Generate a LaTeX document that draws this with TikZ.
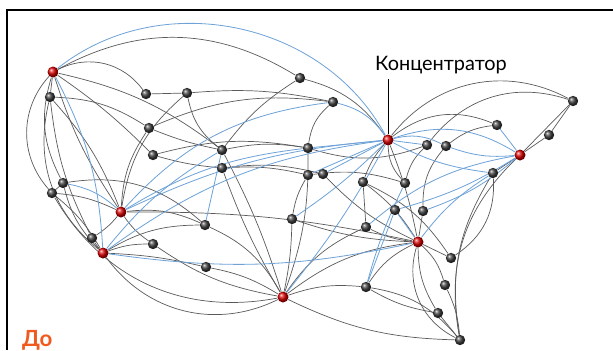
\documentclass[tikz,border=0pt]{standalone}
\usepackage{fontspec}
\setmainfont{Lato}
\usepackage{tikz}
\usetikzlibrary{backgrounds}

\definecolor{linkgray}{HTML}{5A5A5A}
\definecolor{linkblue}{HTML}{6FA3D8}
\definecolor{labelorange}{HTML}{F05A1E}

\begin{document}
\begin{tikzpicture}[
  x=0.03cm, y=-0.03cm,
  dot/.style={circle, inner sep=0pt, minimum size=0.31cm, shading=ball, ball color=black!75},
  hub/.style={circle, inner sep=0pt, minimum size=0.33cm, shading=ball, ball color=red!85!black},
  link/.style={draw=linkgray, line width=0.6pt},
  blink/.style={draw=linkblue, line width=0.7pt}
]
  \useasboundingbox (0,0) rectangle (613,350);
  % frame
  \coordinate (fbl) at (7,350);
  \coordinate (ftl) at (7,10);
  \coordinate (ftr) at (613,10);
  \draw[line width=1.8pt] (fbl) -- (ftl) -- (ftr);

  % hubs
  \foreach \n/\x/\y in {hA/53/72, hB/121/212, hC/103/253, hD/283/297,
                        hE/388/140, hF/520/155, hG/418/242} {
    \node[hub] (\n) at (\x,\y) {};
  }
  % ordinary stations
  \foreach \n/\x/\y in {n1/50/97, n2/146/94, n3/187/93, n4/300/78, n5/333/102,
                        n6/149/128, n7/153/155, n8/222/150, n9/222/168, n10/308/148,
                        n11/308/175, n12/323/174, n13/52/193, n14/63/183, n15/92/238,
                        n16/153/244, n17/205/225, n18/206/267, n19/292/219, n20/363/182,
                        n21/405/183, n22/427/145, n23/446/146, n24/497/125, n25/549/135,
                        n26/573/101, n27/493/173, n28/395/210, n29/423/211, n30/366/227,
                        n31/451/258, n32/366/287, n33/445/285, n34/438/313, n35/460/340} {
    \node[dot] (\n) at (\x,\y) {};
  }

  \node[font=\fontsize{17}{20}\selectfont] (hublabel) at (441,65) {Концентратор};
  \coordinate (hubtick) at (388,79);
  \draw[line width=0.6pt] (hubtick) -- (hE);

  \node[font=\fontsize{19}{22}\selectfont\bfseries, text=labelorange, anchor=base west] (before) at (18,346) {До};

  \begin{pgfonlayer}{background}
    % grey links
    \foreach \a/\b/\c in {hA/n4/30, hA/n2/40, hA/n1/0, hA/n7/5, hA/hB/-8, hA/n13/-42,
                          hA/n14/-22, hA/n8/12, n1/hB/10, n1/hC/-32, n1/n15/-10,
                          n2/n3/0, n3/n5/8, n4/n8/-10, n3/n8/-20, n6/n5/15, n6/n8/-5,
                          n6/hB/-15, n7/n10/12, n7/n9/-5, n8/n10/10, n9/n11/8, n9/n12/10,
                          n5/n10/-20, n4/hE/20,
                          hB/n17/15, hB/n16/-10, hB/hG/6, hB/n13/-10, hB/n15/8,
                          hC/n16/10, hC/n18/5, hC/hD/-40, hC/n17/15, hC/n13/-10, hC/n14/15,
                          hC/n15/5, n13/n14/0, n14/n17/25, n18/hD/10, n16/hD/-12,
                          n17/hD/18, hD/n8/-5, hD/n9/5, hD/n10/-10, hD/n19/-5,
                          hD/n30/15, hD/hG/15, hD/n35/-12, hD/n32/12, n13/hD/-35,
                          hE/n20/-10, hE/n21/-20, hE/n26/40, hE/n24/30, hE/hG/5,
                          n22/n21/-15, n23/n29/-20, n24/n23/-15, n26/n22/-35, hF/n26/0,
                          n25/hF/0, n25/n26/0, hF/n35/-28, n27/n35/-20, n27/n31/30,
                          n27/hF/0, hG/n31/0, hG/n33/15, hG/n34/-15, hG/n35/-40,
                          hG/n29/0, hG/n30/10, hG/n32/-15, hG/n20/-10, hG/n19/8,
                          n32/n34/-10, n32/n35/20, n34/n35/0, n33/n35/10, n30/n20/0,
                          n19/n11/10, n11/n21/12, n12/hG/-10, n20/n31/15, n10/n22/-18,
                          n1/n6/15, n3/hB/-20} {
      \draw[link] (\a) to[bend left=\c] (\b);
    }
    % blue links
    \foreach \a/\b/\c in {hA/hE/50, hB/hE/10, hB/n5/20, hB/n10/12, hC/n8/10, hC/hE/14,
                          n17/n8/0, hD/hE/-5, hE/n22/0, hE/n23/20, hE/hF/25, hE/n11/0,
                          hE/n12/0, hE/n10/0, hE/n27/-10, n5/hE/20, n24/hF/0,
                          hF/n29/10, hF/n28/8, n32/n28/0, hG/n28/0, hG/hC/10,
                          hF/n23/12, n30/hF/15, n19/hE/-5, hB/n14/-15, hC/hA/-12,
                          n27/hG/-10, n32/n21/5} {
      \draw[blink] (\a) to[bend left=\c] (\b);
    }
  \end{pgfonlayer}
\end{tikzpicture}
\end{document}
